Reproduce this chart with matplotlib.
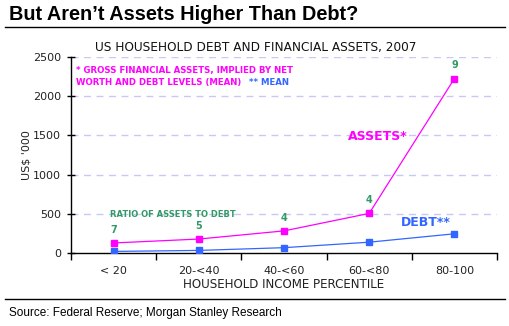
import matplotlib.pyplot as plt
import numpy as np

categories = ['< 20', '20-<40', '40-<60', '60-<80', '80-100']
assets = [128, 178, 282, 505, 2225]
debt = [20, 33, 68, 138, 245]
ratios = [7, 5, 4, 4, 9]

magenta = '#FF00FF'
blue = '#3366FF'
green = '#339966'

fig = plt.figure(figsize=(5.1, 3.26), dpi=100)
ax = fig.add_axes([71 / 510, 1 - 253 / 326, (497 - 71) / 510, (253 - 57) / 326])

x = np.arange(len(categories))
ax.plot(x, assets, color=magenta, lw=0.9, marker='s', ms=4.6, zorder=3)
ax.plot(x, debt, color=blue, lw=0.9, marker='s', ms=4.6, zorder=3)

for xi, a, r in zip(x, assets, ratios):
    ax.text(xi, a + 170, str(r), color=green, fontsize=7, fontweight='bold',
            ha='center', va='center')

ax.set_xlim(-0.5, len(categories) - 0.5)
ax.set_ylim(0, 2500)
ax.set_yticks(np.arange(0, 2501, 500))
ax.set_xticks(np.arange(-0.5, len(categories), 1.0))
ax.set_xticklabels([])
ax.set_xticks(x, minor=True)
ax.set_xticklabels(categories, minor=True)
ax.tick_params(axis='x', which='major', direction='out', length=5, width=1)
ax.tick_params(axis='x', which='minor', length=0, pad=9, labelsize=8, labelcolor='#222222')
ax.tick_params(axis='y', direction='inout', length=6, width=1, labelsize=8,
               pad=4, labelcolor='#222222')

for v in range(500, 2501, 500):
    ax.axhline(v, color='#C8C8F8', lw=1, ls=(0, (5, 4)), zorder=1)

for s in ['top', 'right']:
    ax.spines[s].set_visible(False)
ax.spines['left'].set_linewidth(1)
ax.spines['bottom'].set_linewidth(1)

ax.set_ylabel("US$ '000", fontsize=8, color='#222222', labelpad=1)
ax.set_xlabel('HOUSEHOLD INCOME PERCENTILE', fontsize=8.6, color='#222222', labelpad=2)
fig.text(256 / 510, 1 - 48 / 326, 'US HOUSEHOLD DEBT AND FINANCIAL ASSETS, 2007',
         fontsize=8.7, color='#111111', ha='center', va='center')

ax.text(0.012, 0.929, '* GROSS FINANCIAL ASSETS, IMPLIED BY NET',
        transform=ax.transAxes, color=magenta, fontsize=6.2, fontweight='bold',
        va='center')
ax.text(0.012, 0.872, 'WORTH AND DEBT LEVELS (MEAN)',
        transform=ax.transAxes, color=magenta, fontsize=6.2, fontweight='bold',
        va='center')
ax.text(0.418, 0.872, '** MEAN',
        transform=ax.transAxes, color=blue, fontsize=6.2, fontweight='bold',
        va='center')
ax.text(2.75, 1480, 'ASSETS*', color=magenta, fontsize=9, fontweight='bold',
        va='center')
ax.text(3.37, 383, 'DEBT**', color=blue, fontsize=9, fontweight='bold',
        va='center')
ax.text(-0.04, 485, 'RATIO OF ASSETS TO DEBT', color=green, fontsize=6,
        fontweight='bold', va='center')

fig.text(9 / 510, 1 - 15 / 326, 'But Aren\u2019t Assets Higher Than Debt?',
         fontsize=14.3, fontweight='bold', family='Liberation Sans', va='center')
fig.add_artist(plt.Line2D([5 / 510, 505 / 510], [1 - 27 / 326] * 2,
                          color='black', lw=1))
fig.add_artist(plt.Line2D([5 / 510, 505 / 510], [1 - 298.5 / 326] * 2,
                          color='black', lw=1))
fig.text(9 / 510, 1 - 313 / 326, 'Source: Federal Reserve; Morgan Stanley Research',
         fontsize=8.5, family='Liberation Sans', va='center')

plt.savefig('out.png', dpi=100)
